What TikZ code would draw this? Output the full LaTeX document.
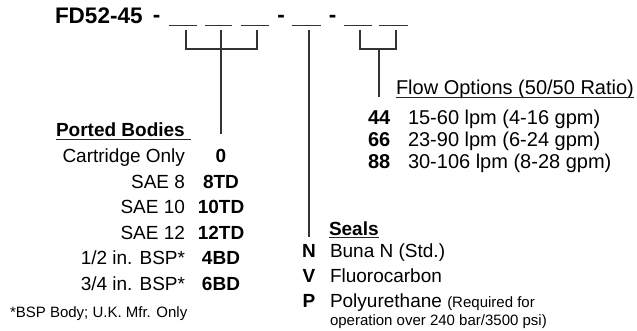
\documentclass[tikz,border=0pt]{standalone}
\usepackage{fontspec}
\setmainfont{Liberation Sans}
\begin{document}
\begin{tikzpicture}[x=1pt,y=-1pt,
  every node/.style={inner sep=0pt,outer sep=0pt,text=black},
  big/.style={font=\fontsize{19}{22}\selectfont},
  bigb/.style={font=\fontsize{19}{22}\selectfont\bfseries},
  flw/.style={font=\fontsize{20}{23}\selectfont},
  flwb/.style={font=\fontsize{20}{23}\selectfont\bfseries},
  small/.style={font=\fontsize{15}{18}\selectfont},
  ttl/.style={font=\fontsize{22.5}{26}\selectfont\bfseries},
  ln/.style={draw=black!80,line width=1.4pt},
  uline/.style={draw=black!85,line width=1.1pt}]
\useasboundingbox (0,0) rectangle (637,331);
% title and dashes
\node[ttl,anchor=base west] (title) at (55,24) {FD52-45};
\node[ttl,anchor=base] (d1) at (156.5,22.5) {-};
\node[ttl,anchor=base] (d2) at (281,22.5) {-};
\node[ttl,anchor=base] (d3) at (332.5,22.5) {-};
% blanks
\coordinate (b1a) at (169,25.5); \coordinate (b1b) at (197,25.5);
\coordinate (b2a) at (205,25.5); \coordinate (b2b) at (232,25.5);
\coordinate (b3a) at (241,25.5); \coordinate (b3b) at (269,25.5);
\coordinate (b4a) at (292,25.5); \coordinate (b4b) at (321,25.5);
\coordinate (b5a) at (344,25.5); \coordinate (b5b) at (372,25.5);
\coordinate (b6a) at (379,25.5); \coordinate (b6b) at (408,25.5);
\foreach \i in {1,...,6} {\draw[ln] (b\i a) -- (b\i b);}
% ported bracket
\coordinate (p1) at (186,30); \coordinate (p2) at (221,30); \coordinate (p3) at (257,30);
\coordinate (p1d) at (186,49); \coordinate (p3d) at (257,49);
\coordinate (pend) at (221,134);
\draw[ln] (p1) -- (p1d) -- (p3d) -- (p3);
\draw[ln] (p2) -- (pend);
% seals line
\coordinate (s1) at (309,30); \coordinate (send) at (309,237);
\draw[ln] (s1) -- (send);
% flow bracket
\coordinate (f1) at (360,30); \coordinate (f2) at (396,30);
\coordinate (f1d) at (360,49); \coordinate (f2d) at (396,49);
\coordinate (fm) at (379,49); \coordinate (fend) at (379,97);
\draw[ln] (f1) -- (f1d) -- (f2d) -- (f2);
\draw[ln] (fm) -- (fend);
% Flow options
\node[flw,anchor=base west] (flow) at (396,95) {Flow Options (50/50 Ratio)};
\draw[uline] ([yshift=-2.5pt]flow.base west) -- ([yshift=-2.5pt]flow.base east);
\node[flwb,anchor=base west] (n44) at (368,125) {44};
\node[flw,anchor=base west] (t44) at (408,125) {15-60 lpm (4-16 gpm)};
\node[flwb,anchor=base west] (n66) at (368,146.7) {66};
\node[flw,anchor=base west] (t66) at (408,146.7) {23-90 lpm (6-24 gpm)};
\node[flwb,anchor=base west] (n88) at (368,168.3) {88};
\node[flw,anchor=base west] (t88) at (408,168.3) {30-106 lpm (8-28 gpm)};
% Ported bodies
\node[bigb,anchor=base west] (pb) at (56,137) {Ported Bodies};
\draw[uline] ([yshift=-2.5pt]pb.base west) -- ([yshift=-2.5pt,xshift=6pt]pb.base east);
\foreach \lab/\code/\y [count=\k] in {{Cartridge Only}/0/163,{SAE 8}/8TD/188.4,{SAE 10}/10TD/213.8,{SAE 12}/12TD/239.2,{1/2 in. BSP*}/4BD/264.6,{3/4 in. BSP*}/6BD/290} {
  \node[big,anchor=base east] (pl\k) at (185,\y) {\lab};
  \node[bigb,anchor=base] (pc\k) at (221,\y) {\code};
}
\node[small,anchor=base west] (foot) at (10,317) {*BSP Body; U.K. Mfr. Only};
% Seals
\node[bigb,anchor=base west] (seals) at (329,235) {Seals};
\draw[uline] ([yshift=-2.5pt]seals.base west) -- ([yshift=-2.5pt]seals.base east);
\node[bigb,anchor=base] (sN) at (309,258) {N};
\node[big,anchor=base west] (tN) at (330,258) {Buna N (Std.)};
\node[bigb,anchor=base] (sV) at (309,282) {V};
\node[big,anchor=base west] (tV) at (330,282) {Fluorocarbon};
\node[bigb,anchor=base] (sP) at (309,307) {P};
\node[big,anchor=base west] (tP) at (330,307) {Polyurethane {\fontsize{15}{18}\selectfont (Required for}};
\node[small,anchor=base west] (tP2) at (330,325) {operation over 240 bar/3500 psi)};
\end{tikzpicture}
\end{document}
